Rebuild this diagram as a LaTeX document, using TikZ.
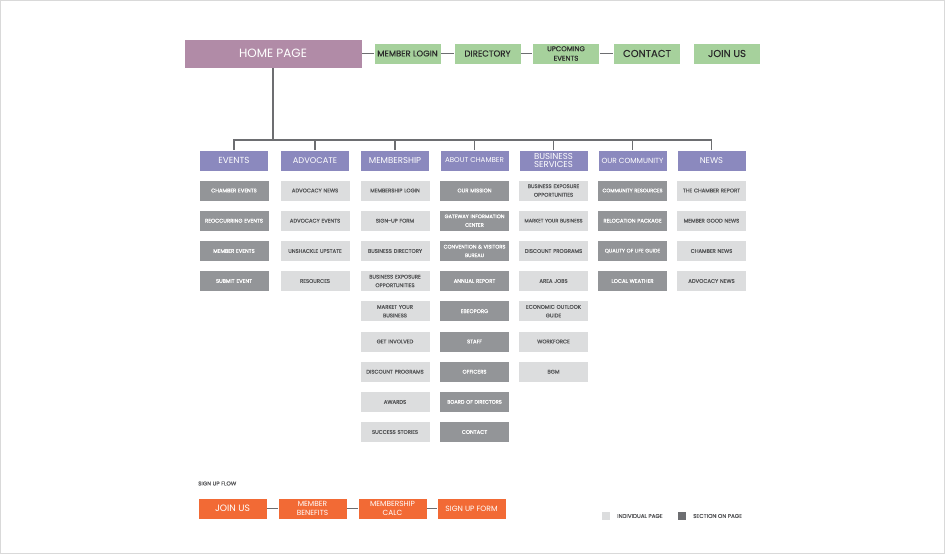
\documentclass[tikz,border=0pt]{standalone}
\usepackage{fontspec}
\setmainfont{Poppins}
\definecolor{mauve}{HTML}{B18BA7}
\definecolor{navgreen}{HTML}{A6D19C}
\definecolor{lvlpurple}{HTML}{8B89BE}
\definecolor{secgray}{HTML}{939598}
\definecolor{indgray}{HTML}{DCDDDE}
\definecolor{flow}{HTML}{F26A35}
\definecolor{linegray}{HTML}{6D6E71}
\definecolor{darktext}{HTML}{58595B}
\definecolor{navtext}{HTML}{2B2B2B}
\definecolor{frame}{HTML}{D9D9D9}
\newcommand{\fs}[2]{\fontsize{#1}{#2}\selectfont}
\newcommand{\heavy}[1]{\addfontfeatures{FakeBold=#1}}
\tikzset{
  box/.style={rectangle, inner sep=0pt, align=center, draw=white, line width=0.6pt},
  homebox/.style={box, fill=mauve, text=white, minimum width=178pt, minimum height=29pt, font=\fs{12}{14}},
  navbox/.style={box, fill=navgreen, text=navtext, minimum width=67pt, minimum height=21pt},
  lvlbox/.style={box, fill=lvlpurple, text=white, minimum width=69pt, minimum height=21pt, font=\fs{8.8}{9}},
  secbox/.style={box, fill=secgray, text=white, minimum width=70pt, minimum height=21pt, text width=70pt, font=\fs{5.3}{8.6}\heavy{0.9}},
  indbox/.style={box, fill=indgray, text=darktext, minimum width=70pt, minimum height=21pt, text width=70pt, font=\fs{5.3}{8.6}\heavy{0.9}},
  flowbox/.style={box, fill=flow, text=white, minimum width=69pt, minimum height=21pt},
  conn/.style={draw=linegray, line width=1.2pt},
  legtext/.style={inner sep=0pt, anchor=west, text=darktext, font=\fs{5.6}{6}\heavy{0.7}}
}
\begin{document}
\begin{tikzpicture}[x=1pt,y=-1pt]
\useasboundingbox (0,0) rectangle (945,554);
\fill[white] (0,0) rectangle (945,554);
\draw[frame, line width=1pt] (0.5,0.5) rectangle (944.5,553.5);

% top level
\node[homebox] (home) at (273,53.5) {HOME PAGE};
\node[navbox, font=\fs{8.4}{9}\heavy{0.4}] (login) at (407.5,53.5) {MEMBER LOGIN};
\node[navbox, font=\fs{8.6}{9}\heavy{0.4}] (dir) at (487.5,53.5) {DIRECTORY};
\node[navbox, font=\fs{7}{9.5}\heavy{0.4}] (upc) at (566,53.5) {UPCOMING\\EVENTS};
\node[navbox, font=\fs{10}{11}\heavy{0.3}] (contact) at (647,53.5) {CONTACT};
\node[navbox, font=\fs{10}{11}\heavy{0.3}] (join) at (727,53.5) {JOIN US};
\draw[conn] (home.east) -- (login.west);
\draw[conn] (login.east) -- (dir.west);
\draw[conn] (dir.east) -- (upc.west);
\draw[conn] (upc.east) -- (contact.west);

% level 1
\node[lvlbox] (ev) at (234,160.5) {EVENTS};
\node[lvlbox, font=\fs{8.3}{9}] (adv) at (315,160.5) {ADVOCATE};
\node[lvlbox, font=\fs{8.6}{9}] (mem) at (395,160.5) {MEMBERSHIP};
\node[lvlbox, font=\fs{7.1}{8}] (abt) at (474.5,160.5) {ABOUT CHAMBER};
\node[lvlbox, font=\fs{8.6}{8.6}] (bus) at (553.5,160.5) {BUSINESS\\SERVICES};
\node[lvlbox, font=\fs{7.4}{8}] (com) at (632.5,160.5) {OUR COMMUNITY};
\node[lvlbox, font=\fs{8.4}{9}] (news) at (711.5,160.5) {NEWS};

\coordinate (hub) at (273,140);
\draw[conn] (home.south) -- (hub);
\foreach \n in {ev,adv,mem,abt,bus,com,news}{\draw[conn] (hub) -| (\n.north);}

% events
\node[secbox] (ev1) at (234,190.5) {CHAMBER EVENTS};
\node[secbox] (ev2) at (234,220.7) {REOCCURRING EVENTS};
\node[secbox] (ev3) at (234,251) {MEMBER EVENTS};
\node[secbox] (ev4) at (234,281) {SUBMIT EVENT};

% advocate
\node[indbox] (adv1) at (315,190.5) {ADVOCACY NEWS};
\node[indbox] (adv2) at (315,220.7) {ADVOCACY EVENTS};
\node[indbox] (adv3) at (315,251) {UNSHACKLE UPSTATE};
\node[indbox] (adv4) at (315,281) {RESOURCES};

% membership
\node[indbox] (mem1) at (395,190.5) {MEMBERSHIP LOGIN};
\node[indbox] (mem2) at (395,220.7) {SIGN-UP FORM};
\node[indbox] (mem3) at (395,251) {BUSINESS DIRECTORY};
\node[indbox] (mem4) at (395,281) {BUSINESS EXPOSURE\\OPPORTUNITIES};
\node[indbox] (mem5) at (395,311.2) {MARKET YOUR\\BUSINESS};
\node[indbox] (mem6) at (395,341.5) {GET INVOLVED};
\node[indbox] (mem7) at (395,371.7) {DISCOUNT PROGRAMS};
\node[indbox] (mem8) at (395,401.9) {AWARDS};
\node[indbox] (mem9) at (395,432) {SUCCESS STORIES};

% about chamber
\node[secbox] (abt1) at (474.5,190.5) {OUR MISSION};
\node[secbox, font=\fs{5.1}{8.6}\heavy{0.9}] (abt2) at (474.5,220.7) {GATEWAY INFORMATION\\CENTER};
\node[secbox, font=\fs{5.1}{8.6}\heavy{0.9}] (abt3) at (474.5,251) {CONVENTION \& VISITORS\\BUREAU};
\node[secbox] (abt4) at (474.5,281) {ANNUAL REPORT};
\node[secbox] (abt5) at (474.5,311.2) {EBEOPORG};
\node[secbox] (abt6) at (474.5,341.5) {STAFF};
\node[secbox] (abt7) at (474.5,371.7) {OFFICERS};
\node[secbox, font=\fs{5.1}{8.6}\heavy{0.9}] (abt8) at (474.5,401.9) {BOARD OF DIRECTORS};
\node[secbox] (abt9) at (474.5,432) {CONTACT};

% business services
\node[indbox] (bus1) at (553.5,190.5) {BUSINESS EXPOSURE\\OPPORTUNITIES};
\node[indbox, font=\fs{5}{8.6}\heavy{0.9}] (bus2) at (553.5,220.7) {MARKET YOUR BUSINESS};
\node[indbox] (bus3) at (553.5,251) {DISCOUNT PROGRAMS};
\node[indbox] (bus4) at (553.5,281) {AREA JOBS};
\node[indbox] (bus5) at (553.5,311.2) {ECONOMIC OUTLOOK\\GUIDE};
\node[indbox] (bus6) at (553.5,341.5) {WORKFORCE};
\node[indbox] (bus7) at (553.5,371.7) {BGM};

% our community
\node[secbox, font=\fs{5}{8.6}\heavy{0.9}] (com1) at (632.5,190.5) {COMMUNITY RESOURCES};
\node[secbox] (com2) at (632.5,220.7) {RELOCATION PACKAGE};
\node[secbox, font=\fs{5.1}{8.6}\heavy{0.9}] (com3) at (632.5,251) {QUALITY OF LIFE GUIDE};
\node[secbox] (com4) at (632.5,281) {LOCAL WEATHER};

% news
\node[indbox] (news1) at (711.5,190.5) {THE CHAMBER REPORT};
\node[indbox] (news2) at (711.5,220.7) {MEMBER GOOD NEWS};
\node[indbox] (news3) at (711.5,251) {CHAMBER NEWS};
\node[indbox] (news4) at (711.5,281) {ADVOCACY NEWS};

% sign up flow
\node[legtext] (flowlabel) at (198,483.5) {SIGN UP FLOW};
\node[flowbox, font=\fs{9.2}{10}] (f1) at (232.5,508.5) {JOIN US};
\node[flowbox, font=\fs{7.4}{8.4}] (f2) at (312.5,508.5) {MEMBER\\BENEFITS};
\node[flowbox, font=\fs{7.4}{8.4}] (f3) at (392.5,508.5) {MEMBERSHIP\\CALC};
\node[flowbox, font=\fs{7.6}{8}] (f4) at (471.5,508.5) {SIGN UP FORM};
\draw[conn] (f1.east) -- (f2.west);
\draw[conn] (f2.east) -- (f3.west);
\draw[conn] (f3.east) -- (f4.west);

% legend
\node[rectangle, fill=indgray, minimum size=8pt, inner sep=0pt] (lg1) at (606,516) {};
\node[legtext] (lg1t) at (617,516) {INDIVIDUAL PAGE};
\node[rectangle, fill=linegray, minimum size=8pt, inner sep=0pt] (lg2) at (682,516) {};
\node[legtext] (lg2t) at (693,516) {SECTION ON PAGE};
\end{tikzpicture}
\end{document}
